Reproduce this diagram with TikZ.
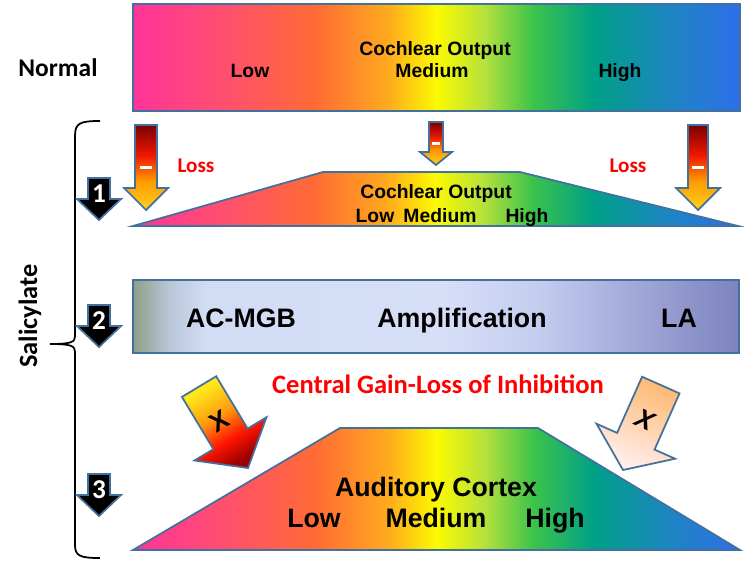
\documentclass[tikz,border=0pt]{standalone}
\usepackage{fontspec}
\setmainfont{Liberation Sans}
\newfontfamily\carlito{Carlito}
\definecolor{edgeblue}{HTML}{41719C}
\definecolor{lossred}{HTML}{FF0000}
% rainbow stops
\definecolor{rbA}{HTML}{FF3399}
\definecolor{rbB}{HTML}{FF4F6E}
\definecolor{rbC}{HTML}{FF6B35}
\definecolor{rbD}{HTML}{FFAA1E}
\definecolor{rbE}{HTML}{FCFA00}
\definecolor{rbF}{HTML}{B4E13C}
\definecolor{rbG}{HTML}{3CC34B}
\definecolor{rbH}{HTML}{00A087}
\definecolor{rbI}{HTML}{1C86C0}
\definecolor{rbJ}{HTML}{2F6EEB}
% amplification band
\definecolor{amA}{HTML}{8E9E86}
\definecolor{amB}{HTML}{B8C6D8}
\definecolor{amC}{HTML}{D2DCF5}
\definecolor{amD}{HTML}{D7DFF8}
\definecolor{amE}{HTML}{C6CEF0}
\definecolor{amF}{HTML}{ACB3E0}
\definecolor{amG}{HTML}{7D83BF}
% loss arrows
\definecolor{arY}{HTML}{FFD21F}
\definecolor{arO}{HTML}{FF9A00}
\definecolor{arR}{HTML}{F01800}
\definecolor{arD}{HTML}{7A0000}
\definecolor{xY}{HTML}{FFE81A}
\definecolor{xO}{HTML}{FF9A10}
\definecolor{xR}{HTML}{FF1400}
\definecolor{xD}{HTML}{A00000}
\pgfdeclarehorizontalshading{rainbow}{100bp}{color(0bp)=(rbA); color(25bp)=(rbA); color(32.5bp)=(rbB); color(40bp)=(rbC); color(46bp)=(rbD); color(50bp)=(rbE); color(54bp)=(rbF); color(58bp)=(rbG); color(63bp)=(rbH); color(69bp)=(rbI); color(75bp)=(rbJ); color(100bp)=(rbJ)}
\pgfdeclarehorizontalshading{ampband}{100bp}{color(0bp)=(amA); color(25bp)=(amA); color(28bp)=(amB); color(31bp)=(amC); color(50bp)=(amD); color(58bp)=(amE); color(64bp)=(amF); color(75bp)=(amG); color(100bp)=(amG)}
\pgfdeclareverticalshading{lossarrow}{100bp}{color(0bp)=(arY); color(25bp)=(arY); color(42bp)=(arO); color(57bp)=(arR); color(75bp)=(arD); color(100bp)=(arD)}
\pgfdeclareverticalshading{xarrow}{100bp}{color(0bp)=(xD); color(27bp)=(xD); color(40bp)=(xR); color(55bp)=(xO); color(72bp)=(xY); color(100bp)=(xY)}
% x, half shaft, top, head y, half head, tip
\newcommand{\downshape}[6]{(#1-#2,#3) -- (#1+#2,#3) -- (#1+#2,#4) -- (#1+#5,#4) -- (#1,#6) -- (#1-#5,#4) -- (#1-#2,#4) -- cycle}
\begin{document}
\begin{tikzpicture}[x=0.02cm, y=-0.02cm,
    band/.style={shade, shading=rainbow, draw=edgeblue, line width=1pt},
    ampbox/.style={shade, shading=ampband, draw=edgeblue, line width=1pt},
    lossarr/.style={shade, shading=lossarrow, draw=edgeblue, line width=1pt},
    numarrow/.style={fill=black, draw=edgeblue, line width=1pt},
    lbl/.style={font=\bfseries\fontsize{11}{13}\selectfont, anchor=base},
    biglbl/.style={font=\bfseries\fontsize{15.2}{18}\selectfont, anchor=base},
    numlbl/.style={font=\carlito\bfseries\fontsize{15.5}{18}\selectfont, text=white, inner sep=0pt},
    redlbl/.style={font=\carlito\bfseries\fontsize{12}{14}\selectfont, text=lossred},
  ]
  \useasboundingbox (0,0) rectangle (744,569);
  %
  \node [font=\carlito\bfseries\fontsize{14.5}{17}\selectfont] (normal) at (58,68) {Normal};
  \draw [band] (133,4) rectangle (740,111);
  \node [lbl] (cotop) at (435,55) {Cochlear Output};
  \node [lbl] (lowtop) at (250,77) {Low};
  \node [lbl] (medtop) at (432,77) {Medium};
  \node [lbl] (hightop) at (620,77) {High};
  %
  \draw [line width=1pt] (100,121) .. controls (80,121) and (75,123) .. (75,136) -- (75,336)
    .. controls (75,342) and (72,344) .. (50,344)
    .. controls (72,344) and (75,346) .. (75,352) -- (75,545)
    .. controls (75,556) and (80,558) .. (100,558);
  \node [font=\carlito\bfseries\fontsize{15}{18}\selectfont, rotate=90] (salicylate) at (30,316) {Salicylate};
  %
  \foreach \n/\t in {1/178,2/305,3/474}{
    \draw [numarrow] \downshape{99}{11}{\t}{\t+21}{22}{\t+42};
    \node [numlbl] (num\n) at (99,\t+16) {\n};
  }
  %
  \draw [lossarr] \downshape{146}{11}{125}{188}{22}{210};
  \draw [lossarr] \downshape{436}{7}{122}{152}{16}{165};
  \draw [lossarr] \downshape{698}{10}{125}{188}{22}{210};
  \fill [white] (140,165.5) rectangle (152,168.5);
  \fill [white] (432,141.5) rectangle (440,144.5);
  \fill [white] (692,165.5) rectangle (704,168.5);
  \node [redlbl] (lossl) at (196,166) {Loss};
  \node [redlbl] (lossr) at (628,166) {Loss};
  %
  \draw [band] (133,226) -- (323,172) -- (520,172) -- (738,226) -- cycle;
  \node [lbl] (comid) at (436,198) {Cochlear Output};
  \node [lbl] (lowmid) at (375,222) {Low};
  \node [lbl] (medmid) at (440,222) {Medium};
  \node [lbl] (highmid) at (527,222) {High};
  %
  \draw [ampbox] (133,280) rectangle (739,353);
  \node [biglbl] (acmgb) at (241,327) {AC-MGB};
  \node [biglbl] (amp) at (462,327) {Amplification};
  \node [biglbl] (la) at (679,327) {LA};
  %
  \node [font=\carlito\bfseries\fontsize{15.1}{18}\selectfont, text=lossred, anchor=base] (gain) at (438,393) {Central Gain-Loss of Inhibition};
  %
  \begin{scope}[shift={(248,468)}, rotate=31]
    \draw [shade, shading=xarrow, shading angle=31, draw=edgeblue, line width=1pt]
      (-20,-95) -- (20,-95) -- (20,-34) -- (42,-34) -- (0,0) -- (-42,-34) -- (-20,-34) -- cycle;
    \node [font=\bfseries\fontsize{15}{18}\selectfont, rotate=31] (xl) at (0,-55) {X};
  \end{scope}
  \begin{scope}[shift={(623,470)}, rotate=-24]
    \draw [top color=orange!55!white, middle color=orange!30!white, bottom color=pink!25!white, shading angle=-24, draw=edgeblue, line width=1pt]
      (-20.5,-93) -- (20.5,-93) -- (20.5,-31.5) -- (43,-31.5) -- (0,0) -- (-43,-31.5) -- (-20.5,-31.5) -- cycle;
    \node [font=\bfseries\itshape\fontsize{15}{18}\selectfont, rotate=-24] (xr) at (0,-55) {X};
  \end{scope}
  %
  \draw [band] (133,550) -- (340,428) -- (538,428) -- (740,550) -- cycle;
  \node [biglbl] (cortex) at (436,496) {Auditory Cortex};
  \node [biglbl] (lowbot) at (314,527) {Low};
  \node [biglbl] (medbot) at (436,527) {Medium};
  \node [biglbl] (highbot) at (555,527) {High};
\end{tikzpicture}
\end{document}
